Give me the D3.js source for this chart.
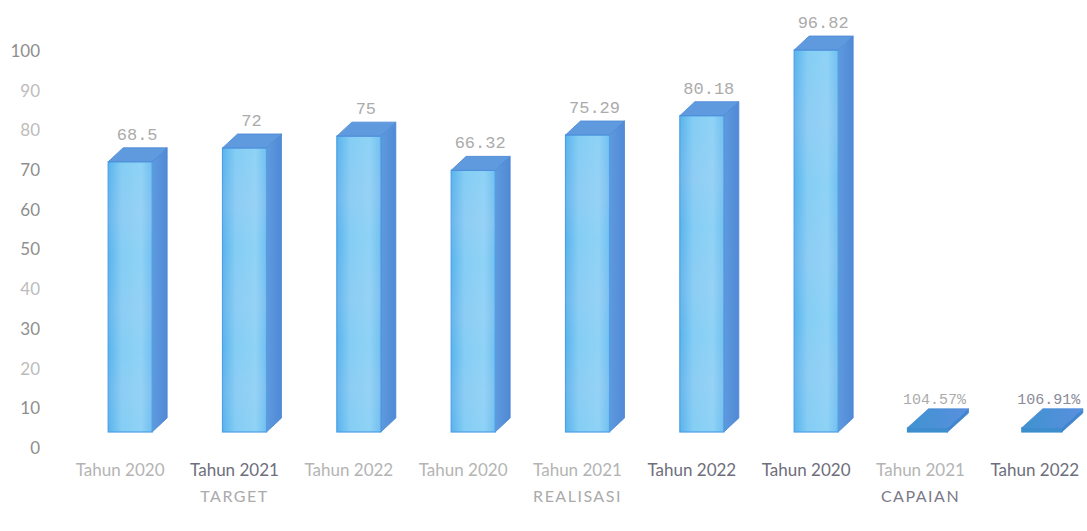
<!DOCTYPE html>
<html><head><meta charset="utf-8">
<script src="https://cdn.jsdelivr.net/npm/d3@7"></script>
<style>html,body{margin:0;padding:0;background:#fff;}svg{display:block;}</style>
</head><body><svg id="c" width="1087" height="531"></svg>
<script>
const categories = ["Tahun 2020","Tahun 2021","Tahun 2022","Tahun 2020","Tahun 2021","Tahun 2022","Tahun 2020","Tahun 2021","Tahun 2022"];
const groups = ["TARGET","REALISASI","CAPAIAN"];
const values = [68.5, 72, 75, 66.32, 75.29, 80.18, 96.82, 1.0457, 1.0691];
const valueLabels = ["68.5","72","75","66.32","75.29","80.18","96.82","104.57%","106.91%"];
const yTicks = [0,10,20,30,40,50,60,70,80,90,100];

const svg = d3.select("#c");
const font = "Lato, 'Open Sans', sans-serif";

const x = d3.scaleBand().domain(d3.range(categories.length)).range([63, 1092]).padding(0);
const yBar = d3.scaleLinear().domain([0, 100]).range([432, 37.5]);
const yAxis = d3.scaleLinear().domain([0, 100]).range([448, 51]);

const fl = -12, fr = 32;

const defs = svg.append("defs");
const gf = defs.append("linearGradient").attr("id","front").attr("x1","0").attr("x2","1").attr("y1","0").attr("y2","0");
gf.append("stop").attr("offset","0").attr("stop-color","#58b4ec");
gf.append("stop").attr("offset","0.3").attr("stop-color","#84cdf4");
gf.append("stop").attr("offset","0.75").attr("stop-color","#8ed3f6");
gf.append("stop").attr("offset","1").attr("stop-color","#72bff0");
const gv = defs.append("linearGradient").attr("id","band").attr("x1","0").attr("x2","0").attr("y1","0").attr("y2","1");
[[0,0],[0.2,0.12],[0.35,0],[0.55,0.1],[0.7,0],[0.85,0.1],[1,0]].forEach(([o,a])=>gv.append("stop").attr("offset",o).attr("stop-color","#d9c8f2").attr("stop-opacity",a));
const gs = defs.append("linearGradient").attr("id","side").attr("x1","0").attr("x2","1").attr("y1","0").attr("y2","0");
gs.append("stop").attr("offset","0").attr("stop-color","#5f9ade");
gs.append("stop").attr("offset","1").attr("stop-color","#5089d6");
const gflat = defs.append("linearGradient").attr("id","flat").attr("x1","0").attr("x2","1").attr("y1","0").attr("y2","0");
gflat.append("stop").attr("offset","0").attr("stop-color","#3e93cf");
gflat.append("stop").attr("offset","1").attr("stop-color","#5a8fe0");

// y axis labels
svg.append("g").selectAll("text").data(yTicks).join("text")
  .attr("x", 40).attr("y", d => yAxis(d)).attr("dy","0.35em")
  .attr("text-anchor","end").attr("font-family", font).attr("font-size", 17)
  .attr("fill", d => (d===20||d===40||d===80||d===90) ? "#bcbcbc" : "#8e8e8e")
  .text(d => d);

const bars = svg.append("g").selectAll("g").data(values).join("g");
bars.each(function(v, i) {
  const g = d3.select(this);
  const c = x(i) + x.bandwidth()/2;
  const yt = yBar(v), yb = yBar(0);
  const flat = i >= 7;
  const dX = flat ? 21 : 15, dY = flat ? 19 : 14;
  const L = c + fl - (flat ? 1 : 0), R = c + fr - (flat ? 5 : 0);
  g.append("path").attr("d", `M${R},${yt}L${R+dX},${yt-dY}L${R+dX},${yb-dY}L${R},${yb}Z`)
    .attr("fill", flat ? "#3f86cc" : "url(#side)").attr("stroke", "#4a86d2").attr("stroke-width", 0.8);
  g.append("rect").attr("x", L).attr("y", yt).attr("width", R-L).attr("height", yb-yt)
    .attr("fill", flat ? "#3c8ecd" : "url(#front)").attr("stroke", flat ? "#3c8ecd" : "#4d9fe6").attr("stroke-width", 1.2);
  if (!flat) {
    g.append("rect").attr("x", L).attr("y", yt).attr("width", R-L).attr("height", yb-yt).attr("fill","url(#band)");
  }
  g.append("path").attr("d", `M${L},${yt}L${L+dX},${yt-dY}L${R+dX},${yt-dY}L${R},${yt}Z`)
    .attr("fill", flat ? "url(#flat)" : "#5f9ade").attr("stroke", flat ? "#4a8ad6" : "#4a88d6").attr("stroke-width", 0.8);
  g.append("text").attr("x", c + (flat ? 14 : 17)).attr("y", yt - (flat ? 24 : 22))
    .attr("text-anchor","middle").attr("font-family", "'Liberation Mono', monospace").attr("font-size", flat ? 15 : 17)
    .attr("fill", i===8 ? "#8a8a9a" : "#ababab").text(valueLabels[i]);
});

const dark = [false,true,false,false,false,true,true,false,true];
svg.append("g").selectAll("text").data(categories).join("text")
  .attr("x", (d,i) => x(i) + x.bandwidth()/2).attr("y", 476)
  .attr("text-anchor","middle").attr("font-family", font).attr("font-size", 17)
  .attr("fill", (d,i) => dark[i] ? "#6e6e7c" : "#b4b4b4")
  .text(d => d);

svg.append("g").selectAll("text").data(groups).join("text")
  .attr("x", (d,i) => x(i*3+1) + x.bandwidth()/2).attr("y", 502)
  .attr("text-anchor","middle").attr("font-family", font).attr("font-size", 16)
  .attr("letter-spacing", 1.5)
  .attr("fill", (d,i) => i===2 ? "#7a7a88" : "#aaaaaa")
  .text(d => d);
</script></body></html>
